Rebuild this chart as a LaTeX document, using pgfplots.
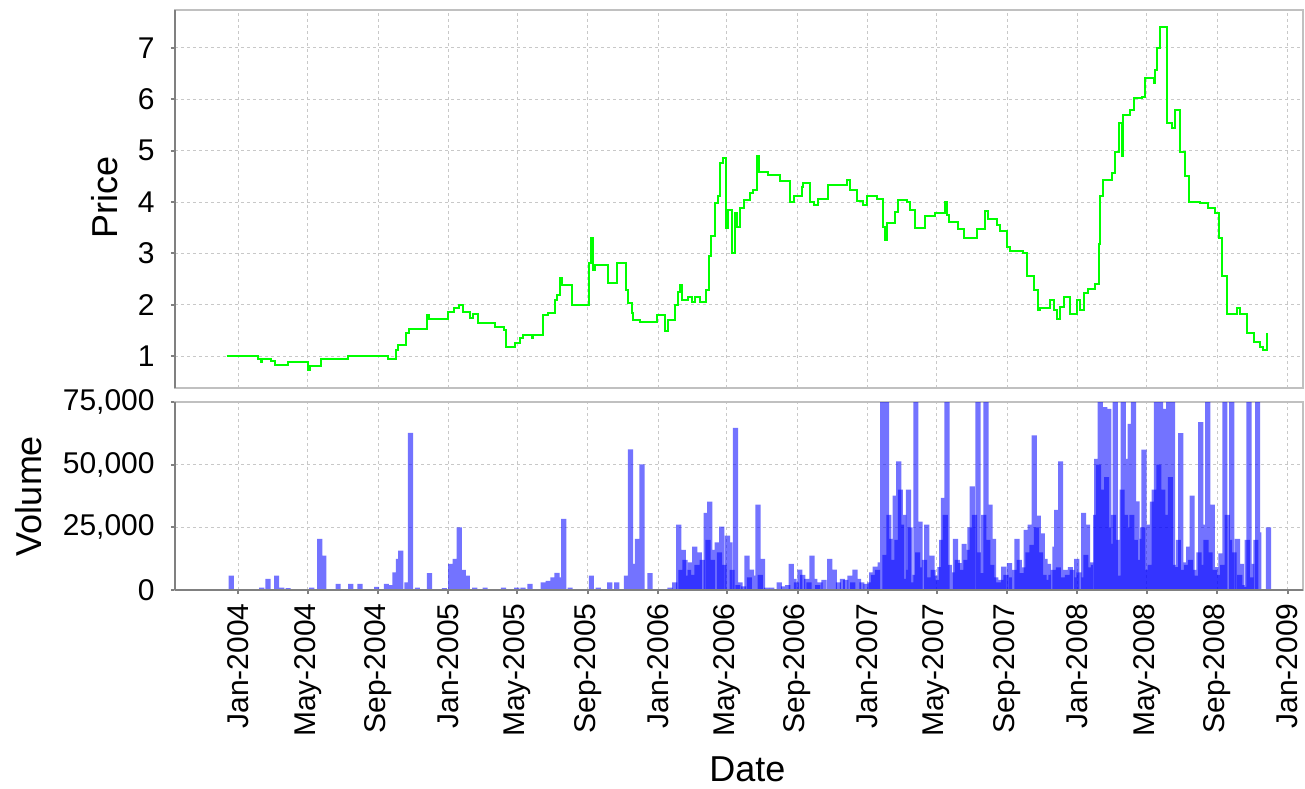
\documentclass[border=0pt]{standalone}
\usepackage{fontspec}
\setmainfont{Liberation Sans}
\usepackage{pgfplots}
\usepackage{pgfplotstable}
\pgfplotsset{compat=1.18}

\definecolor{gridgray}{RGB}{200,200,200}
\definecolor{axisgray}{RGB}{128,128,128}
\definecolor{outlinegray}{RGB}{192,192,192}
\definecolor{pricegreen}{RGB}{0,255,0}
\definecolor{volblue}{RGB}{0,0,255}

% day = days since 1 Jan 2004
\pgfplotstableread{
day price
-20 1.00
35 0.94
39 0.89
41 0.94
58 0.91
64 0.83
87 0.89
122 0.73
125 0.81
145 0.94
192 1.00
261 0.94
275 1.12
279 1.21
293 1.44
298 1.52
328 1.80
333 1.72
366 1.85
375 1.93
385 2.00
392 1.86
404 1.75
409 1.81
418 1.64
447 1.56
462 1.50
466 1.18
482 1.25
491 1.35
496 1.40
511 1.35
514 1.41
531 1.79
540 1.84
552 2.10
555 2.19
560 2.52
563 2.38
581 2.00
610 2.81
615 3.30
617 2.68
621 2.77
644 2.43
659 2.81
675 2.29
679 2.03
685 1.84
688 1.70
700 1.66
729 1.80
743 1.49
749 1.70
761 2.00
766 2.25
769 2.38
772 2.09
784 2.15
790 2.05
795 2.15
804 2.06
815 2.29
819 2.94
824 3.33
830 3.98
836 4.11
839 4.76
845 4.85
849 3.49
853 3.85
859 3.00
865 3.78
868 3.52
874 3.88
880 4.04
891 4.17
897 4.23
903 4.89
906 4.59
923 4.52
943 4.40
961 4.00
967 4.11
981 4.30
984 4.37
996 4.00
1002 3.95
1010 4.05
1027 4.33
1060 4.43
1065 4.23
1077 4.02
1088 3.95
1094 4.11
1112 4.05
1123 3.52
1126 3.26
1129 3.59
1144 3.80
1149 4.04
1164 4.00
1170 3.85
1178 3.49
1196 3.72
1213 3.78
1231 4.00
1234 3.75
1237 3.62
1254 3.47
1263 3.30
1286 3.47
1300 3.83
1306 3.67
1321 3.55
1327 3.44
1338 3.13
1344 3.04
1367 3.00
1373 2.55
1385 2.29
1393 1.90
1396 1.93
1414 2.09
1420 1.90
1425 1.73
1431 1.96
1437 2.14
1449 1.81
1460 2.09
1466 1.90
1472 2.22
1480 2.31
1492 2.41
1498 3.19
1501 4.11
1506 4.43
1521 4.56
1527 4.98
1533 5.54
1538 4.89
1541 5.70
1553 5.80
1559 6.02
1573 6.05
1579 6.41
1594 6.31
1596 6.57
1599 7.00
1605 7.40
1618 5.54
1626 5.44
1631 5.80
1640 4.98
1649 4.50
1655 4.00
1675 3.98
1689 3.88
1701 3.78
1707 3.30
1713 2.55
1721 1.81
1739 1.93
1745 1.81
1756 1.44
1768 1.28
1779 1.18
1785 1.12
1791 1.44
}\pricetable

\pgfplotstableread{
day volume
-12 5700
41 1000
52 4400
67 5700
76 1000
87 800
128 1000
142 20400
149 13700
174 2400
196 2400
212 2400
241 1300
258 2400
267 2000
273 7000
279 12400
283 15700
294 3000
300 62700
312 1000
333 6700
359 800
370 10400
378 12400
385 25000
392 8000
399 5700
412 1000
430 1000
462 1000
485 1000
496 1000
508 2400
531 3000
540 3600
548 5000
555 6800
560 5000
567 28400
578 1000
615 5700
627 1000
647 3000
659 3000
676 5700
683 56100
690 10400
695 20400
703 50100
717 6700
752 1000
767 26100
775 16000
781 5700
787 11000
795 17300
803 15000
815 30800
821 35300
830 16000
834 19000
842 25300
852 21700
856 19000
866 64700
874 3000
886 13700
894 8100
899 5700
905 34100
913 12400
929 1000
942 3000
963 10400
968 4400
978 8100
990 4400
999 13700
1004 4400
1013 3000
1030 12400
1038 8100
1052 4400
1065 5700
1074 8100
1080 4400
1093 2400
1103 7000
1109 9300
1118 11000
1122 80000
1129 80000
1138 20400
1144 37700
1150 51300
1155 26100
1162 4400
1167 40000
1173 3000
1180 80000
1187 27300
1199 26100
1208 13700
1213 5700
1222 9100
1228 36800
1234 80000
1249 20400
1257 10700
1264 18400
1271 16000
1278 41300
1288 80000
1295 6700
1302 80000
1309 34100
1315 20400
1324 3000
1333 9300
1343 10700
1356 20400
1364 6700
1372 24000
1379 26100
1386 61700
1393 29700
1400 22600
1405 12400
1411 10400
1422 17300
1425 32000
1432 51300
1440 8000
1449 9100
1460 12400
1472 30800
1479 26100
1485 11000
1495 52300
1501 80000
1509 73000
1516 72300
1521 18400
1527 80000
1536 5700
1541 80000
1549 52300
1553 66300
1559 80000
1565 35400
1572 20400
1577 56000
1585 26100
1592 35300
1599 80000
1606 80000
1613 72300
1620 80000
1627 80000
1634 9100
1641 62600
1648 11000
1655 17300
1661 37700
1670 5700
1676 67000
1682 26100
1688 80000
1696 34100
1704 9100
1711 14600
1718 80000
1730 80000
1740 20400
1747 10400
1754 1300
1760 80000
1765 10400
1775 80000
1777 23000
1794 25000
}\voltable

% lower daily volumes inside the denser 2006-2008 stretch
\pgfplotstableread{
day volume
760 3000
771 8000
778 12000
784 8000
791 6000
799 10000
808 12000
818 20000
826 12000
838 15000
846 10000
860 8000
870 2000
880 1500
890 5000
909 6000
920 1000
950 1500
957 2000
972 3000
983 6000
994 3000
1009 2000
1020 4000
1045 3000
1058 4000
1070 3000
1086 3000
1100 3000
1106 6000
1113 8000
1126 14000
1133 30000
1141 12000
1147 20000
1153 40000
1159 30000
1164 8000
1170 25000
1176 6000
1183 15000
1190 9000
1195 12000
1203 5000
1210 8000
1218 4000
1225 20000
1231 30000
1238 10000
1244 7000
1252 12000
1260 8000
1267 12000
1274 25000
1282 30000
1291 15000
1298 30000
1305 20000
1312 10000
1319 5000
1328 4000
1337 6000
1347 5000
1352 8000
1360 12000
1368 9000
1375 15000
1382 18000
1390 25000
1397 15000
1403 6000
1408 4000
1415 6000
1419 8000
1428 9000
1436 5000
1444 6000
1452 8000
1456 5000
1464 7000
1468 5000
1476 14000
1482 9000
1489 10000
1493 30000
1498 50000
1505 40000
1512 45000
1519 25000
1524 30000
1531 20000
1539 40000
1545 30000
1551 25000
1556 30000
1562 20000
1568 12000
1575 25000
1581 8000
1588 10000
1595 40000
1603 50000
1610 40000
1616 30000
1623 45000
1630 10000
1637 20000
1644 8000
1651 10000
1658 12000
1664 8000
1667 5000
1673 15000
1679 10000
1685 20000
1692 15000
1700 8000
1707 6000
1714 10000
1722 30000
1726 20000
1734 15000
1744 6000
1750 2000
1757 20000
1762 5000
1770 5000
1772 20000
}\voltableb

\pgfplotsset{
  common/.style={
    scale only axis, width=564pt,
    xmin=-110, xmax=1854,
    grid=major,
    major grid style={gridgray, dash pattern=on 1.5pt off 1.5pt, line width=0.5pt},
    axis line style={outlinegray, line width=1pt},
    tick style={axisgray, line width=1pt},
    tick align=outside, major tick length=2pt,
    ticklabel style={font=\fontsize{15}{18}\selectfont, text=black},
    label style={font=\fontsize{18}{21}\selectfont},
    /pgf/number format/assume math mode=true,
    xtick={0,121,244,366,486,609,731,851,974,1096,1216,1339,1461,1582,1705,1827},
    ytick pos=left,
    yticklabel style={inner sep=0pt},
    yticklabel shift=8pt,
  }
}

\begin{document}
\begin{tikzpicture}
\useasboundingbox (-87.5pt,-200pt) rectangle (565pt,194pt);

\begin{axis}[common,
  at={(0,0)}, anchor=south west,
  height=189pt,
  ymin=0.377, ymax=7.74,
  ytick={1,2,3,4,5,6,7},
  xticklabels={},
  xtick style={draw=none},
  ylabel={Price},
  ylabel style={at={(axis description cs:-0.0621,0.505)}, anchor=center},
  after end axis/.code={
    \draw[axisgray, line width=1pt] (rel axis cs:0,0) -- (rel axis cs:0,1);
  },
]
\addplot[const plot, pricegreen, line width=1pt] table[x=day, y=price] {\pricetable};
\end{axis}

\begin{axis}[common,
  at={(0,-7pt)}, anchor=north west,
  height=94pt,
  ymin=0, ymax=75000,
  ytick={0,25000,50000,75000},
  yticklabels={0,{25,000},{50,000},{75,000}},
  scaled y ticks=false,
  xtick pos=bottom,
  xticklabels={Jan-2004,May-2004,Sep-2004,Jan-2005,May-2005,Sep-2005,Jan-2006,May-2006,Sep-2006,Jan-2007,May-2007,Sep-2007,Jan-2008,May-2008,Sep-2008,Jan-2009},
  xticklabel style={rotate=90, anchor=east, inner sep=0pt},
  xticklabel shift=4.5pt,
  ylabel={Volume},
  ylabel style={at={(axis description cs:-0.130,0.5)}, anchor=center},
  xlabel={Date},
  xlabel style={at={(axis description cs:0.5075,-0.955)}, anchor=center, inner sep=0pt},
  after end axis/.code={
    \draw[axisgray, line width=1pt] (rel axis cs:0,0) -- (rel axis cs:0,1);
    \draw[axisgray, line width=1pt] (rel axis cs:0,0) -- (rel axis cs:1,0);
  },
]
\addplot[ybar, bar width=9, bar shift=0pt, fill=volblue, fill opacity=0.55, draw=none] table[x=day, y=volume] {\voltableb};
\addplot[ybar, bar width=9, bar shift=0pt, fill=volblue, fill opacity=0.55, draw=none] table[x=day, y=volume] {\voltable};
\end{axis}
\end{tikzpicture}
\end{document}
